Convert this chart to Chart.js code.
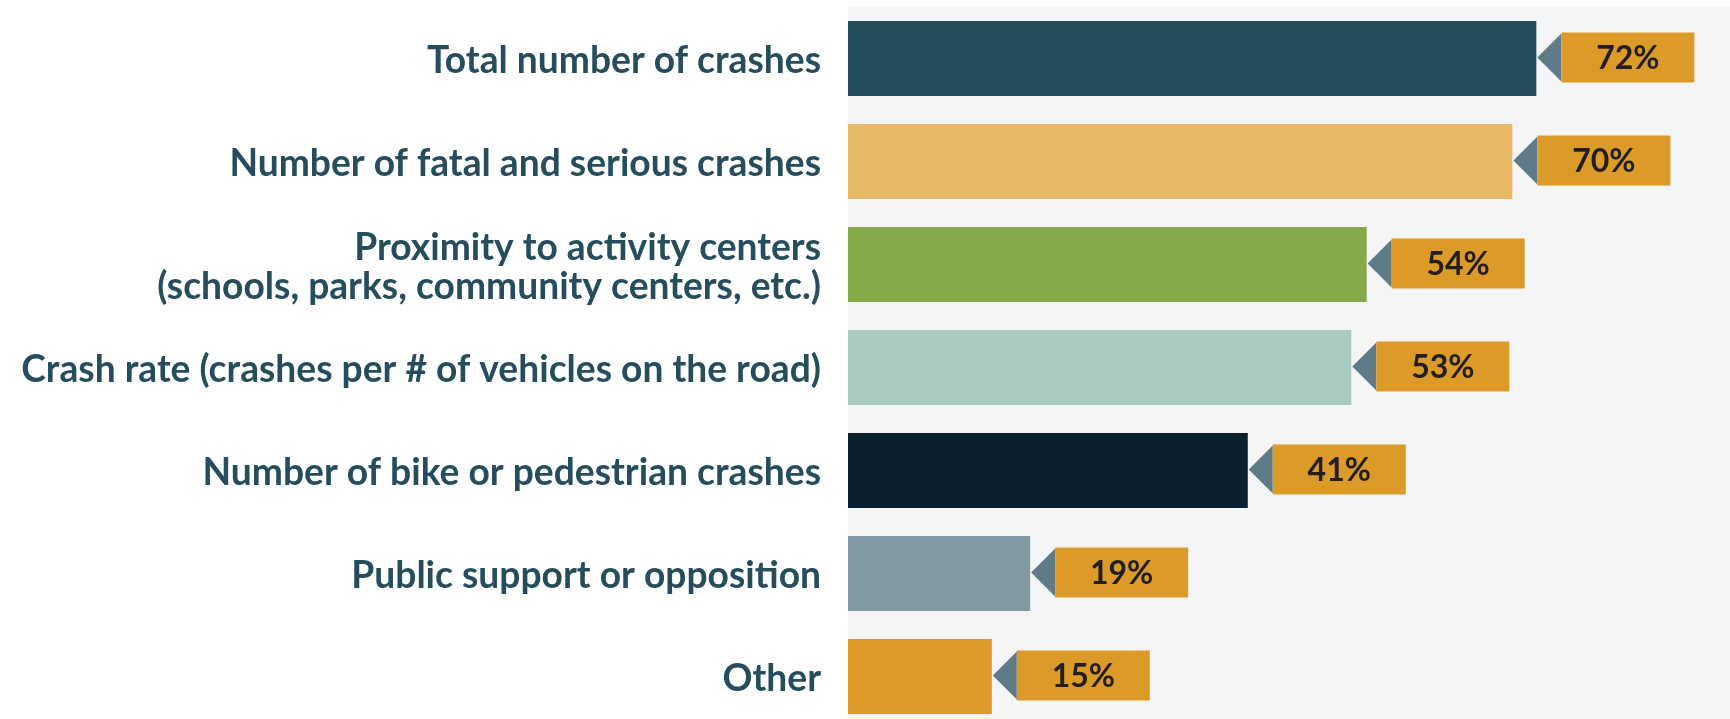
<!DOCTYPE html>
<html>
<head>
<meta charset="utf-8">
<script src="https://cdn.jsdelivr.net/npm/chart.js@4"></script>
<style>
html,body{margin:0;padding:0;background:#fff;overflow:hidden;}
#wrap{position:absolute;left:0;top:0;width:1730px;height:728px;}
</style>
</head>
<body>
<div id="wrap"><canvas id="c"></canvas></div>
<script>
const categories = [
  "Total number of crashes",
  "Number of fatal and serious crashes",
  ["Proximity to activity centers", "(schools, parks, community centers, etc.)"],
  "Crash rate (crashes per # of vehicles on the road)",
  "Number of bike or pedestrian crashes",
  "Public support or opposition",
  "Other"
];
const values = [71.8, 69.3, 54.1, 52.5, 41.7, 19, 15];
const valueLabels = ["72%", "70%", "54%", "53%", "41%", "19%", "15%"];
const barColors = ["#254d5c", "#e7b866", "#86aa4a", "#aacac2", "#0b1f2d", "#8399a1", "#dc9b28"];

const plotBg = {
  id: 'plotBg',
  beforeDraw(chart) {
    const {ctx, chartArea} = chart;
    ctx.save();
    ctx.fillStyle = '#f4f5f7';
    ctx.fillRect(chartArea.left, chartArea.top - 1, chart.width - chartArea.left, chartArea.bottom - chartArea.top + 1);
    ctx.restore();
  }
};

const callouts = {
  id: 'callouts',
  afterDatasetsDraw(chart) {
    const {ctx} = chart;
    const meta = chart.getDatasetMeta(0);
    ctx.save();
    meta.data.forEach((bar, i) => {
      const xEnd = bar.x + 1;
      const cy = bar.y - 1;
      const triW = 24, triH = 48, boxW = 133, boxH = 50;
      ctx.fillStyle = '#5f7b87';
      ctx.beginPath();
      ctx.moveTo(xEnd, cy);
      ctx.lineTo(xEnd + triW, cy - triH / 2);
      ctx.lineTo(xEnd + triW, cy + triH / 2);
      ctx.closePath();
      ctx.fill();
      ctx.fillStyle = '#dc9b28';
      ctx.fillRect(xEnd + triW, cy - boxH / 2, boxW, boxH);
      ctx.fillStyle = '#231f20';
      ctx.font = 'bold 32px Lato';
      ctx.textAlign = 'center';
      ctx.textBaseline = 'middle';
      ctx.fillText(valueLabels[i], xEnd + triW + boxW / 2, cy + 1);
    });
    ctx.restore();
  }
};

new Chart(document.getElementById('c'), {
  type: 'bar',
  data: {
    labels: categories,
    datasets: [{
      data: values,
      backgroundColor: barColors,
      borderWidth: 0,
      categoryPercentage: 1,
      barPercentage: 0.73
    }]
  },
  options: {
    indexAxis: 'y',
    responsive: true,
    maintainAspectRatio: false,
    animation: false,
    layout: {padding: {top: 7, bottom: 0, left: 0, right: 0}},
    plugins: {legend: {display: false}, tooltip: {enabled: false}},
    scales: {
      x: {display: false, min: 0, max: 92},
      y: {
        grid: {display: false, drawTicks: false},
        border: {display: false},
        ticks: {
          color: '#254d5c',
          padding: 27,
          labelOffset: 3,
          font: {family: 'Lato', weight: 'bold', size: 37.2, lineHeight: 1.04}
        },
        afterFit(axis) { axis.width = 848; axis.paddingTop = 0; axis.paddingBottom = 0; }
      }
    }
  },
  plugins: [plotBg, callouts]
});
</script>
</body>
</html>
